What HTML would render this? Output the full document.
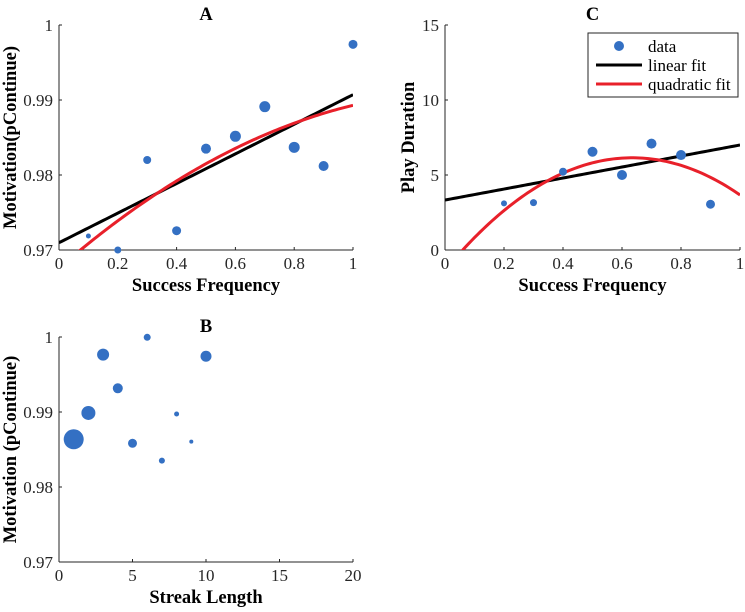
<!DOCTYPE html>
<html><head><meta charset="utf-8"><style>
body{margin:0;background:#fff}
svg{display:block;font-family:"Liberation Serif",serif}
.t{font-size:17px;fill:#262626}
.lab{font-size:18.5px;font-weight:bold;fill:#000}
</style></head><body>
<svg id="s" width="745" height="612" viewBox="0 0 745 612"></svg>
<script>
const aX=[0.1,0.2,0.3,0.4,0.5,0.6,0.7,0.8,0.9,1.0];
const aY=[0.97187,0.970,0.982,0.97257,0.98351,0.98516,0.98911,0.98369,0.9812,0.99742];
const aR=[2.5,3.5,4,4.5,5,5.5,5.5,5.5,5,4.5];
const aLin=[0.97097,0.01974];
const aQuad=[0.96759,0.03395,-0.01225];
const cX=[0.2,0.3,0.4,0.5,0.6,0.7,0.8,0.9];
const cY=[3.11,3.16,5.22,6.55,5.0,7.09,6.33,3.05];
const cR=[3,3.5,4,5,5,5,5,4.5];
const cLin=[3.33,3.67];
const cQuad=[-1.35,23.62,-18.6];
const bX=[1,2,3,4,5,6,7,8,9,10];
const bY=[0.98636,0.98987,0.99765,0.99316,0.98583,0.99996,0.98352,0.98973,0.98605,0.99743];
const bR=[10,7,6,5,4.5,3.5,3,2.5,2,5.5];
const tickA_x=["0","0.2","0.4","0.6","0.8","1"];
const tickA_y=["0.97","0.98","0.99","1"];
const tickC_y=["0","5","10","15"];
const tickB_x=["0","5","10","15","20"];

const S=document.getElementById('s');const NS='http://www.w3.org/2000/svg';
function el(t,a,txt){const e=document.createElementNS(NS,t);for(const k in a)e.setAttribute(k,a[k]);if(txt!==undefined)e.textContent=txt;S.appendChild(e);return e;}
function panel(o){
  const sx=v=>o.x0+(v-o.xmin)/(o.xmax-o.xmin)*(o.x1-o.x0);
  const sy=v=>o.y1-(v-o.ymin)/(o.ymax-o.ymin)*(o.y1-o.y0);
  let e=el('line',{x1:o.x0,y1:o.y0,x2:o.x0,y2:o.y1,stroke:'#262626','stroke-width':1});
  
  e=el('line',{x1:o.x0,y1:o.y1,x2:o.x1,y2:o.y1,stroke:'#262626','stroke-width':1});
  
  o.xt.forEach(t=>{const v=parseFloat(t),x=sx(v);
    el('line',{x1:x,y1:o.y1,x2:x,y2:o.y1-3,stroke:'#262626'});
    e=el('text',{x:x,y:o.y1+19,'text-anchor':'middle',class:'t'},t);
    });
  o.yt.forEach(t=>{const v=parseFloat(t),y=sy(v);
    el('line',{x1:o.x0,y1:y,x2:o.x0+3,y2:y,stroke:'#262626'});
    e=el('text',{x:o.x0-6,y:y+6,'text-anchor':'end',class:'t'},t);
    });
  e=el('text',{x:(o.x0+o.x1)/2,y:o.y0-5,'text-anchor':'middle',class:'lab'},o.title);
  
  e=el('text',{x:(o.x0+o.x1)/2,y:o.y1+41,'text-anchor':'middle',class:'lab'},o.xl);
  
  const cy=(o.y0+o.y1)/2;
  e=el('text',{x:o.ylx,y:cy,'text-anchor':'middle',class:'lab',transform:`rotate(-90 ${o.ylx} ${cy})`},o.yl);
  
  const clipId='clip'+o.id;
  const cp=el('clipPath',{id:clipId});const r=document.createElementNS(NS,'rect');
  r.setAttribute('x',o.x0);r.setAttribute('y',o.y0);r.setAttribute('width',o.x1-o.x0);r.setAttribute('height',o.y1-o.y0);cp.appendChild(r);
  function curve(c,col,name){let d='';for(let i=0;i<=100;i++){const v=o.xmin+(o.xmax-o.xmin)*i/100;let y=0;c.forEach((k,j)=>y+=k*Math.pow(v,j));d+=(i?'L':'M')+sx(v).toFixed(2)+' '+sy(y).toFixed(2);}
    const p=el('path',{d:d,fill:'none',stroke:col,'stroke-width':3,'clip-path':`url(#${clipId})`});
    }
  if(o.lin)curve(o.lin,'#000',o.id+'-linear-fit');
  if(o.quad)curve(o.quad,'#e8202a',o.id+'-quadratic-fit');
  o.X.forEach((v,i)=>{const c=el('circle',{cx:sx(v),cy:sy(o.Y[i]),r:o.R[i],fill:'#3470c3'});
    });
}
panel({id:'panel-a',x0:59,x1:353,y0:25,y1:250,xmin:0,xmax:1,ymin:0.97,ymax:1,xt:tickA_x,yt:tickA_y,title:'A',xl:'Success Frequency',yl:'Motivation(pContinue)',ylx:16,X:aX,Y:aY,R:aR,lin:aLin,quad:aQuad});
panel({id:'panel-c',x0:445,x1:740,y0:25,y1:250,xmin:0,xmax:1,ymin:0,ymax:15,xt:tickA_x,yt:tickC_y,title:'C',xl:'Success Frequency',yl:'Play Duration',ylx:414,X:cX,Y:cY,R:cR,lin:cLin,quad:cQuad});
panel({id:'panel-b',x0:59,x1:353,y0:337,y1:562,xmin:0,xmax:20,ymin:0.97,ymax:1,xt:tickB_x,yt:tickA_y,title:'B',xl:'Streak Length',yl:'Motivation (pContinue)',ylx:16,X:bX,Y:bY,R:bR});
let g=el('rect',{x:588,y:33,width:150,height:64,fill:'#fff',stroke:'#262626','stroke-width':1});

g=el('circle',{cx:619,cy:46,r:5,fill:'#3470c3'});
g=el('text',{x:648,y:52,class:'t',style:'fill:#000'},'data');
g=el('line',{x1:596,y1:65,x2:642,y2:65,stroke:'#000','stroke-width':3});
g=el('text',{x:648,y:71,class:'t',style:'fill:#000'},'linear fit');
g=el('line',{x1:596,y1:84,x2:642,y2:84,stroke:'#e8202a','stroke-width':3});
g=el('text',{x:648,y:90,class:'t',style:'fill:#000'},'quadratic fit');
</script>
</body></html>
